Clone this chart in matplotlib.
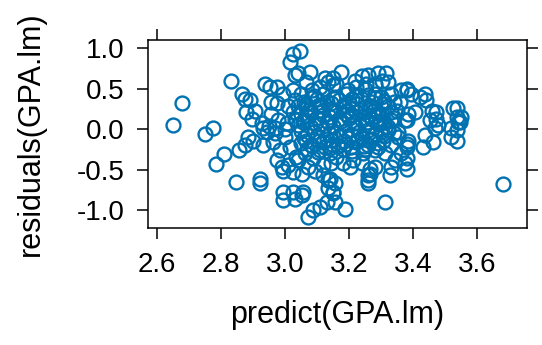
"""Residuals vs fitted values for the GPA linear model (lattice-style xyplot)."""
import matplotlib
matplotlib.use("Agg")
import matplotlib.pyplot as plt

BLUE = "#0072B2"

# outlying points
edge_x = [2.65, 2.68, 2.75, 2.775, 2.809, 2.786, 2.846, 2.831, 2.857, 2.867, 2.877, 2.88, 2.885, 2.876,
          3.024, 3.015, 3.031, 2.937, 2.953, 2.974, 2.89, 2.958, 2.974, 2.995, 3.026, 2.906, 2.896,
          2.927, 2.932, 2.958, 2.979, 2.968, 3.01, 3.026, 3.005, 3.036,
          2.922, 2.922, 2.995, 2.995, 3.026, 3.031, 2.974, 2.99, 2.995, 3.01, 3.026, 2.901, 2.932,
          2.963, 2.984, 2.943, 2.999, 3.015, 3.036,
          3.046, 3.041, 3.078, 3.067, 3.124, 3.135, 3.109, 3.15, 3.083,
          3.176, 3.15, 3.16, 3.218, 3.239, 3.223, 3.249, 3.197, 3.259,
          3.29, 3.316, 3.322, 3.301, 3.28, 3.254, 3.363, 3.379, 3.358, 3.348, 3.332, 3.373, 3.322,
          3.353, 3.28, 3.264, 3.301,
          3.379, 3.394, 3.42, 3.436, 3.441, 3.384, 3.405, 3.379, 3.457, 3.472, 3.451, 3.472, 3.477,
          3.467, 3.524, 3.535, 3.519, 3.519, 3.54, 3.384, 3.379, 3.436, 3.431, 3.462, 3.379, 3.379,
          3.535, 3.55, 3.545, 3.535, 3.535, 3.68,
          3.311, 3.259, 3.264, 3.28, 3.327, 3.332, 3.342, 3.363, 3.373, 3.353, 3.379, 3.311, 3.29,
          3.187, 3.155, 3.15, 3.155, 3.14, 3.259, 3.259, 3.264, 3.181, 3.202, 3.212, 3.239, 3.16, 3.244,
          3.088, 3.072, 3.109, 3.13, 3.057, 3.052, 3.15, 3.135, 3.135, 3.119, 3.093, 3.072, 3.052,
          3.041, 3.088, 3.119, 3.145, 3.062, 3.104, 3.14]
edge_y = [0.05, 0.32, -0.06, 0.02, -0.31, -0.43, -0.65, 0.60, -0.26, 0.43, 0.37, 0.21, -0.10, -0.19,
          0.93, 0.83, 0.67, 0.56, 0.52, 0.52, 0.36, 0.34, 0.32, 0.44, 0.48, 0.23, 0.13,
          0.07, 0.01, 0.19, 0.11, 0.01, 0.28, 0.21, 0.07, 0.11,
          -0.61, -0.67, -0.77, -0.88, -0.77, -0.86, -0.38, -0.47, -0.51, -0.44, -0.53, -0.14, -0.20,
          -0.16, -0.26, -0.03, -0.10, -0.22, -0.34,
          0.96, 0.69, 0.71, 0.58, 0.63, 0.58, 0.52, 0.54, 0.48,
          0.71, 0.63, 0.56, 0.60, 0.65, 0.52, 0.50, 0.48, 0.67,
          0.69, 0.69, 0.58, 0.60, 0.56, 0.56, 0.48, 0.50, 0.34, 0.23, 0.11, 0.11, -0.01,
          -0.03, 0.44, 0.28, 0.19,
          0.48, 0.44, 0.40, 0.44, 0.36, 0.19, 0.21, 0.11, 0.23, 0.21, 0.11, 0.13, 0.05,
          0.01, 0.26, 0.15, 0.01, -0.10, 0.09, -0.14, -0.22, -0.07, -0.22, -0.16, -0.36, -0.49,
          0.26, 0.15, 0.09, -0.01, -0.14, -0.68,
          -0.90, -0.63, -0.55, -0.47, -0.57, -0.47, -0.38, -0.30, -0.42, -0.10, -0.18, -0.30, -0.22,
          -0.98, -0.90, -0.77, -0.67, -0.61, -0.67, -0.57, -0.49, -0.42, -0.47, -0.38, -0.42, -0.34, -0.30,
          -1.00, -1.08, -0.96, -0.90, -0.77, -0.81, -0.79, -0.73, -0.63, -0.57, -0.51, -0.47, -0.55,
          -0.38, -0.36, -0.44, -0.42, -0.30, -0.28, -0.30]

# dense core, estimated row by row
core_x = [3.05, 3.09, 3.12, 3.16, 3.19, 3.22, 3.26, 3.30, 3.33,
          3.03, 3.06, 3.10, 3.13, 3.17, 3.20, 3.24, 3.27, 3.31, 3.34,
          3.04, 3.07, 3.11, 3.14, 3.18, 3.21, 3.25, 3.28, 3.32,
          3.05, 3.08, 3.12, 3.15, 3.19, 3.22, 3.26, 3.29, 3.33,
          3.03, 3.06, 3.10, 3.13, 3.17, 3.20, 3.24, 3.27, 3.31, 3.34,
          3.04, 3.08, 3.11, 3.15, 3.18, 3.22, 3.25, 3.29, 3.32,
          3.05, 3.09, 3.12, 3.16, 3.19, 3.23, 3.26, 3.30, 3.34,
          3.06, 3.10, 3.13, 3.17, 3.20, 3.24, 3.27, 3.31,
          3.05, 3.08, 3.12, 3.15, 3.19, 3.22, 3.26, 3.29, 3.33,
          3.07, 3.11, 3.14, 3.18, 3.21, 3.25, 3.28,
          3.08, 3.15, 3.21, 3.28, 3.07, 3.14, 3.21, 3.28, 3.07, 3.14, 3.21, 3.28,
          3.00, 2.97, 2.95,
          3.065, 3.105, 3.145, 3.185, 3.225, 3.265, 3.305,
          3.055, 3.095, 3.135, 3.175, 3.215, 3.255, 3.295,
          3.065, 3.105, 3.145, 3.185, 3.225, 3.265, 3.305,
          3.075, 3.115, 3.155, 3.195, 3.235, 3.275,
          3.085, 3.125, 3.165, 3.205, 3.245]
core_y = [0.43, 0.41, 0.44, 0.40, 0.43, 0.41, 0.42, 0.40, 0.43,
          0.36, 0.33, 0.37, 0.34, 0.36, 0.33, 0.37, 0.34, 0.35, 0.33,
          0.28, 0.26, 0.29, 0.25, 0.28, 0.26, 0.27, 0.25, 0.28,
          0.19, 0.21, 0.18, 0.22, 0.19, 0.21, 0.18, 0.20, 0.21,
          0.13, 0.11, 0.14, 0.10, 0.12, 0.14, 0.11, 0.13, 0.10, 0.14,
          0.05, 0.03, 0.06, 0.04, 0.07, 0.03, 0.05, 0.06, 0.03,
          -0.02, -0.04, -0.01, -0.05, -0.02, -0.04, -0.01, -0.03, -0.05,
          -0.11, -0.09, -0.12, -0.08, -0.11, -0.10, -0.12, -0.09,
          -0.17, -0.19, -0.16, -0.20, -0.18, -0.16, -0.19, -0.17, -0.20,
          -0.24, -0.26, -0.23, -0.25, -0.27, -0.24, -0.26,
          0.39, 0.38, 0.37, 0.39, 0.16, 0.15, 0.17, 0.16, -0.07, -0.06, -0.07, -0.06,
          0.00, -0.05, 0.04,
          0.31, 0.30, 0.32, 0.30, 0.31, 0.29, 0.31,
          0.09, 0.08, 0.09, 0.10, 0.08, 0.09, 0.08,
          -0.14, -0.15, -0.13, -0.14, -0.15, -0.13, -0.14,
          0.24, 0.23, 0.24, 0.23, 0.24, 0.23,
          -0.21, -0.22, -0.21, -0.22, -0.21]

x_ticks = [2.6, 2.8, 3.0, 3.2, 3.4, 3.6]
y_ticks = [-1.0, -0.5, 0.0, 0.5, 1.0]

plt.rcParams["font.family"] = ["Liberation Sans", "DejaVu Sans"]

fig = plt.figure(figsize=(5.42, 3.45), dpi=100)
ax = fig.add_axes([0.273, 0.339, 0.699, 0.545])
ax.plot(edge_x + core_x, edge_y + core_y, linestyle="none", marker="o", markersize=10,
        markerfacecolor="none", markeredgecolor=BLUE, markeredgewidth=1.7)

ax.set_xlim(2.573, 3.754)
ax.set_ylim(-1.22, 1.10)
ax.set_xticks(x_ticks, [f"{t:.1f}" for t in x_ticks])
ax.set_yticks(y_ticks, [f"{t:.1f}" for t in y_ticks])
ax.tick_params(direction="out", length=8, width=1.1, labelsize=20, pad=9,
               top=True, right=True, labeltop=False, labelright=False)
for spine in ax.spines.values():
    spine.set_linewidth(1.1)
ax.set_xlabel("predict(GPA.lm)", fontsize=22, labelpad=16)
ax.set_ylabel("residuals(GPA.lm)", fontsize=22, labelpad=22)

fig.savefig("out.png", dpi=100)
